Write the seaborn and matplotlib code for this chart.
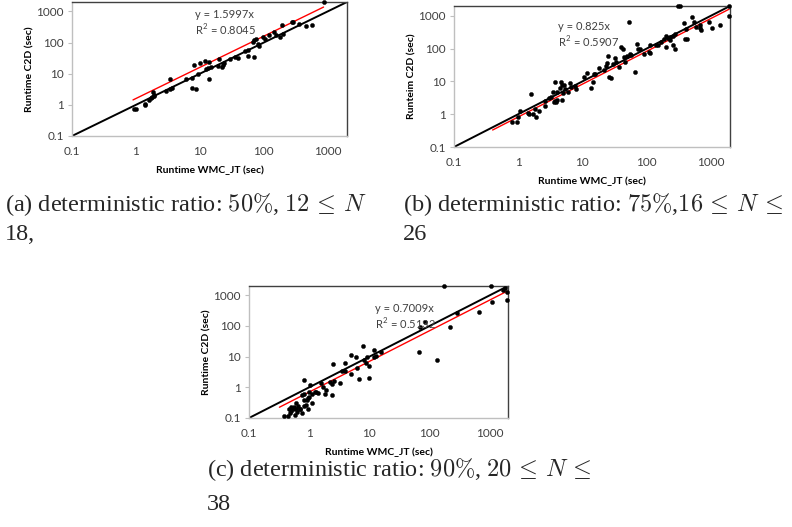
import numpy as np
import pandas as pd
import seaborn as sns
import matplotlib.pyplot as plt

# data (seconds)
a_wmc = [0.92, 1.0, 1.39, 1.39, 1.6, 1.7, 1.8, 1.85, 1.9, 1.9, 2.9, 3.4, 3.4, 3.7, 6.0, 7.6, 8.7,
         7.6, 8.1, 9.4, 9.9, 12, 12.5, 13.5, 13.8, 14, 15, 19.5, 20, 22, 23, 24, 30, 36, 39,
         50, 56, 57, 70, 68, 70, 75, 80, 85, 96, 105, 122, 146, 155, 176, 190, 200, 275, 285,
         350, 460, 575, 885]
a_c2d = [0.74, 0.74, 1.07, 0.97, 1.45, 1.6, 1.8, 2.5, 2.1, 1.9, 2.7, 3.2, 7.0, 3.5, 6.6, 3.5, 3.2,
         7.2, 19, 10, 22, 26, 14.6, 15, 7.0, 23, 17, 18, 30, 17, 19, 22, 29, 35, 32,
         53, 58, 37, 35, 106, 118, 127, 90, 80, 155, 134, 170, 210, 170, 150, 353, 190, 440, 440,
         395, 340, 375, 1950]

b_wmc = [0.81, 0.95, 1.0, 1.05, 1.4, 1.5, 1.6, 1.7, 1.9, 1.8, 2.1, 2.6, 2.6, 3.0, 3.3, 3.5, 3.6,
         3.7, 3.9, 3.8, 4.0, 4.1, 4.5, 4.7, 4.8, 4.9, 5.2, 5.0, 5.4, 5.9, 6.4, 6.6, 7.6, 8.0,
         10.8, 11.7, 13.5, 14.5, 15, 16, 18, 22, 23, 24, 25, 26, 27.5, 30, 32, 34, 37, 40, 43,
         45, 47, 50, 54, 55, 58, 65, 72, 75, 80, 90, 108, 112, 115, 140, 150, 170, 185, 200,
         200, 215, 230, 235, 255, 280, 260, 280, 315, 330, 390, 410, 400, 430, 520, 540, 580,
         670, 690, 700, 950, 1050, 1400, 1950, 1950]
b_c2d = [0.58, 0.58, 0.83, 1.25, 1.1, 1.0, 4.0, 1.0, 0.83, 1.4, 1.25, 1.8, 2.5, 3.2, 3.4, 4.8, 2.4,
         2.5, 2.4, 9.8, 4.6, 2.8, 6.5, 9.8, 2.8, 7.7, 7.7, 4.4, 5.8, 4.6, 9.0, 6.6, 7.4, 5.8,
         14, 18, 6.1, 9.3, 17, 17, 25, 23, 30, 36, 58, 14, 13, 33, 51, 40, 27, 110, 99,
         55, 38, 61, 630, 70, 65, 20, 140, 100, 100, 70, 78, 75, 125, 125, 125, 155, 200, 250,
         115, 210, 230, 180, 250, 280, 130, 100, 2000, 2000, 600, 400, 200, 200, 900, 640, 460,
         540, 420, 370, 640, 430, 510, 2000, 1000]

c_wmc = [0.38, 0.44, 0.47, 0.5, 0.48, 0.53, 0.5, 0.55, 0.58, 0.6, 0.6, 0.62, 0.65, 0.69, 0.7, 0.77,
         0.82, 0.77, 0.83, 0.83, 0.9, 0.82, 0.92, 0.97, 0.98, 0.95, 1.05, 1.1, 1.0, 1.12, 1.24,
         1.3, 1.4, 1.55, 1.7, 1.8, 1.9, 2.2, 2.4, 2.55, 2.4, 2.5, 3.2, 3.5, 3.9, 3.9, 4.9, 5.0,
         5.9, 6.2, 6.6, 7.8, 8.1, 8.7, 9.0, 10, 10, 11.7, 13, 12, 15.8, 67, 70, 83, 130, 220,
         280, 670, 170, 1050, 1100, 1650, 1800, 1950, 1950]
c_c2d = [0.116, 0.116, 0.2, 0.23, 0.15, 0.19, 0.17, 0.22, 0.13, 0.3, 0.2, 0.16, 0.25, 0.19, 0.2, 0.15,
         1.7, 0.55, 0.6, 0.24, 0.26, 0.38, 0.4, 0.45, 0.48, 0.2, 1.22, 0.31, 0.7, 0.6, 0.7,
         0.7, 0.66, 1.4, 1.0, 0.6, 0.8, 1.5, 1.3, 1.6, 0.57, 5.6, 1.4, 3.3, 3.3, 6.3, 11, 2.7,
         9.8, 4.4, 1.9, 22, 8.0, 6.3, 9.5, 5.0, 2.0, 9.5, 10.5, 17, 14, 14.5, 90, 130, 7.9, 93,
         270, 280, 2000, 2000, 620, 1430, 1750, 1300, 700]

slopes = [1.5997, 0.825, 0.7009]
r2 = ["0.8045", "0.5907", "0.5132"]
fit_range = [(0.9, 860), (0.4, 1950), (0.32, 1950)]
ylabels = ["Runtime C2D (sec)", "Runteim C2D (sec)", "Runtime C2D (sec)"]
xlabel = "Runtime WMC_JT (sec)"
ticks = [0.1, 1, 10, 100, 1000]
tick_labels = ["0.1", "1", "10", "100", "1000"]
captions = [
    ("(a) deterministic ratio: $50\\%$, $12\\,\\leq\\,N$", "18,"),
    ("(b) deterministic ratio: $75\\%$,$16\\,\\leq\\,N\\,\\leq$", "26"),
    ("(c) deterministic ratio: $90\\%$, $20\\,\\leq\\,N\\,\\leq$", "38"),
]

sns.set_style("white")
plt.rcParams['font.family'] = ['Lato', 'DejaVu Sans']
plt.rcParams['mathtext.fontset'] = 'cm'

W, H = 792, 527
fig = plt.figure(figsize=(W / 100, H / 100), dpi=100)


def box(l, t, r, b):
    return [l / W, 1 - b / H, (r - l) / W, (b - t) / H]


boxes = [box(72, 2, 347, 136), box(454, 6, 730, 147), box(249, 286, 508, 418)]
text_pos = [(195, 15), (558, 27), (375, 309)]
data = [(a_wmc, a_c2d), (b_wmc, b_c2d), (c_wmc, c_c2d)]

for i in range(3):
    ax = fig.add_axes(boxes[i])
    df = pd.DataFrame({'x': data[i][0], 'y': data[i][1]})
    # y = x reference line
    ref = pd.DataFrame({'x': [0.1, 2000], 'y': [0.1, 2000]})
    sns.lineplot(data=ref, x='x', y='y', color='black', lw=1.4, ax=ax)
    # fitted trendline
    x0, x1 = fit_range[i]
    fit = pd.DataFrame({'x': [x0, x1], 'y': [slopes[i] * x0, slopes[i] * x1]})
    sns.lineplot(data=fit, x='x', y='y', color='red', lw=1.0, ax=ax)
    sns.scatterplot(data=df, x='x', y='y', color='black', s=9, edgecolor='black',
                    linewidth=0.3, ax=ax, zorder=3, clip_on=False)
    ax.set_xscale('log')
    ax.set_yscale('log')
    ax.set_xlim(0.1, 2000)
    ax.set_ylim(0.1, 2000)
    ax.set_xticks(ticks)
    ax.set_xticklabels(tick_labels)
    ax.set_yticks(ticks)
    ax.set_yticklabels(tick_labels)
    ax.minorticks_off()
    ax.tick_params(axis='both', labelsize=8.5, colors='#bfbfbf', labelcolor='#404040',
                   length=3, width=0.8, direction='out', pad=3)
    ax.tick_params(axis='x', length=0, pad=7)
    ax.tick_params(axis='y', left=True)
    ax.spines['left'].set_color('#bfbfbf')
    ax.spines['bottom'].set_color('#bfbfbf')
    ax.spines['top'].set_color('#404040')
    ax.spines['right'].set_color('#404040')
    for s in ax.spines.values():
        s.set_linewidth(1.0)
    ax.set_xlabel(xlabel, fontsize=7.5, fontweight='bold', color='black', labelpad=6)
    ax.set_ylabel(ylabels[i], fontsize=7.5, fontweight='bold', color='black', labelpad=1)
    tx, ty = text_pos[i]
    fig.text(tx / W, 1 - ty / H, "y = %sx" % ("%g" % slopes[i]), fontsize=8, color='#404040',
             va='center', ha='left')
    fig.text(tx / W, 1 - (ty + 15) / H, "R$^\\mathregular{2}$ = " + r2[i], fontsize=8,
             color='#404040', va='center', ha='left')

cap_pos = [(5, 205, 235), (403, 205, 235), (207, 470, 505)]
for (line1, line2), (cx, cy1, cy2) in zip(captions, cap_pos):
    fig.text(cx / W, 1 - cy1 / H, line1, fontsize=17.5, family='Liberation Serif',
             va='center', ha='left')
    fig.text(cx / W, 1 - cy2 / H, line2, fontsize=17.5, family='Liberation Serif',
             va='center', ha='left')

fig.savefig('out.png', dpi=100)
